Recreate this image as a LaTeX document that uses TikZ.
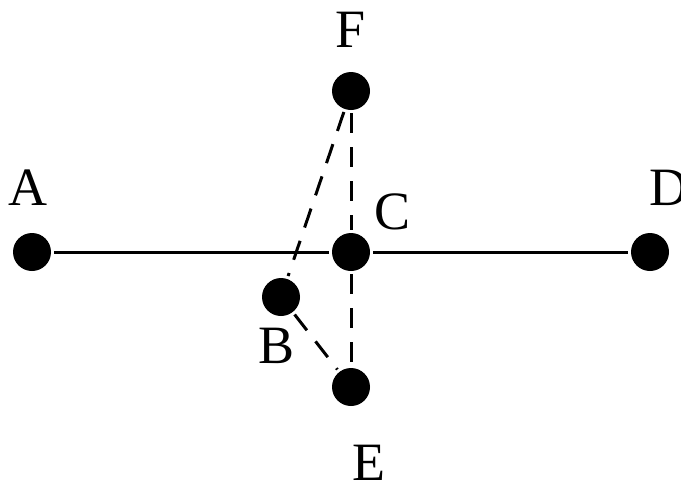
\documentclass[tikz,border=0pt]{standalone}
\usepackage{fontspec}
\setmainfont{Liberation Serif}
\usetikzlibrary{positioning}
\tikzset{
  dot/.style={circle, fill=black, inner sep=0pt, minimum size=38pt}, % the black vertices
  tag/.style={inner sep=0pt, font=\fontsize{54}{60}\selectfont}, % letter next to a vertex
  link/.style={line width=3pt, shorten <=3pt, shorten >=3pt}, % solid edge
  dlink/.style={link, dash pattern=on 20pt off 14pt}, % dashed edge
}
\begin{document}
\begin{tikzpicture}[x=1pt,y=-1pt]
    \useasboundingbox (0,0) rectangle (681,485);
    \node[dot] (A) at (32,252) {};
    \node[dot] (C) at (351,252) {};
    \node[dot] (D) at (650,252) {};
    \node[dot] (F) at (351,91) {};
    \node[dot] (B) at (281,297) {};
    \node[dot] (E) at (351,387) {};

    \node[tag] (tA) at (28,188) {A};
    \node[tag] (tC) at (393,212) {C};
    \node[tag] (tD) at (669,188) {D};
    \node[tag] (tF) at (351,30) {F};
    \node[tag] (tB) at (277,346) {B};
    \node[tag] (tE) at (369,463) {E};

    \draw[link] (A) -- (C);
    \draw[link] (C) -- (D);
    \draw[dlink] (F) -- (C);
    \draw[dlink] (F) -- (B);
    \draw[dlink] (C) -- (E);
    \draw[dlink] (B) -- (E);
\end{tikzpicture}
\end{document}
